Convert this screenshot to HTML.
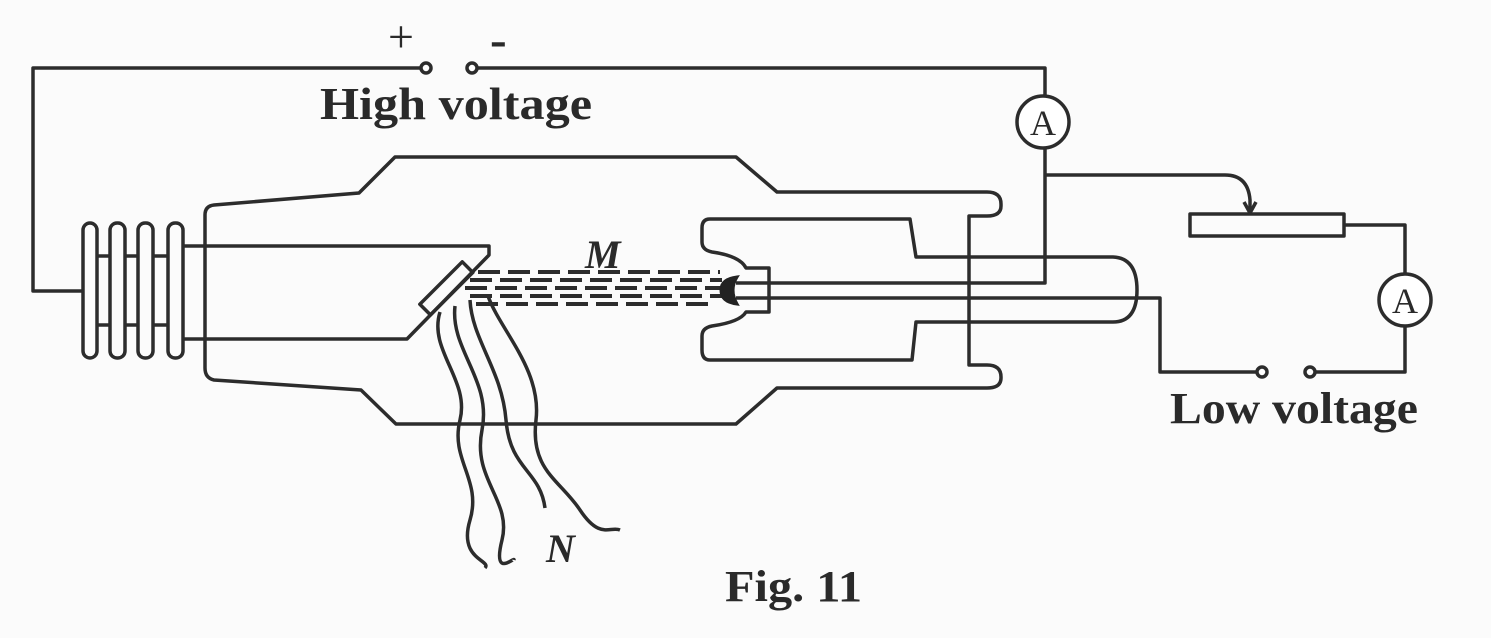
<!DOCTYPE html>
<html><head><meta charset="utf-8"><style>
html,body{margin:0;padding:0;background:#fbfbfb;}
svg{display:block;}
text{font-family:"Liberation Serif",serif;fill:#2a2a2a;}
</style></head><body>
<svg width="1491" height="638" viewBox="0 0 1491 638" xmlns="http://www.w3.org/2000/svg">
<rect width="1491" height="638" fill="#fbfbfb"/>
<g fill="none" stroke="#2c2c2c" stroke-width="3.5" stroke-linejoin="round">
<path d="M421,68 H33 V291 H83"/>
<path d="M477,68 H1045 V96"/>
<circle cx="426" cy="68" r="5" fill="#fff"/>
<circle cx="472" cy="68" r="5" fill="#fff"/>
<circle cx="1043" cy="122" r="26" fill="#fff"/>
<path d="M1045,148 V283 H736"/>
<rect x="83" y="223" width="14" height="135" rx="7"/>
<rect x="110" y="223" width="15" height="135" rx="7"/>
<rect x="138" y="223" width="15" height="135" rx="7"/>
<rect x="168" y="223" width="15" height="135" rx="7"/>
<path d="M97,256 H110 M125,256 H138 M153,256 H168 M97,325 H110 M125,325 H138 M153,325 H168"/>
<path d="M183,246 H489 V255 L407,339 H183"/>
<rect x="416" y="281" width="60" height="15" transform="rotate(-45 446 288)"/>
<path d="M395,157 H736 L777,192 H987 Q1001,192 1001,204 V206 Q1001,216 987,216 H969 V365 H987 Q1001,365 1001,377 V378 Q1001,388 987,388 H777 L736,424 H396 L361,390 L214,380 Q205,378 205,368 V215 Q205,206 214,205 L359,193 Z"/>
<path d="M710,219 H910 L916,257 H1113 Q1137,258 1137,290 Q1137,322 1113,322 H916 L912,360 H710 Q702,360 702,350 V336 Q702,328 712,326 Q740,322 746,312 H769 V268 H746 Q740,256 712,252 Q702,250 702,242 V228 Q702,219 710,219 Z"/>
<path d="M736,298 H1160 V372 H1257"/>
<path d="M1045,175 H1225 Q1248,175 1250,200 V212"/>
<path d="M1244,202 L1250,213 L1256,202"/>
<rect x="1190" y="214" width="154" height="22"/>
<path d="M1344,225 H1405 V274"/>
<circle cx="1405" cy="300" r="26" fill="#fff"/>
<path d="M1405,326 V372 H1315"/>
<circle cx="1262" cy="372" r="5" fill="#fff"/>
<circle cx="1310" cy="372" r="5" fill="#fff"/>
<path d="M440,312 C428,350 470,380 460,420 S482,480 470,520 S492,560 485,568"/>
<path d="M455,306 C450,350 492,380 482,430 S512,500 502,540 S515,556 514,560"/>
<path d="M470,300 C472,340 502,370 506,420 S540,470 545,508"/>
<path d="M488,296 C500,330 542,370 536,420 S560,480 580,510 S610,526 620,530"/>
<g stroke-width="4" stroke-dasharray="22 8">
<path d="M478,272 H720"/>
<path d="M470,280 H722"/>
<path d="M465,288 H725"/>
<path d="M470,296 H722"/>
<path d="M476,304 H715"/>
</g>
</g>
<path d="M737,277 Q721,279 721,290 Q721,302 737,304 Q729,290 737,277 Z" fill="#222" stroke="#222" stroke-width="3"/>
<text x="388" y="52" font-size="46" style="font-weight:normal">+</text>
<text x="490" y="56" font-size="50" style="font-weight:bold">-</text>
<text x="320" y="119" font-size="46" textLength="272" lengthAdjust="spacingAndGlyphs" style="font-weight:bold">High  voltage</text>
<text x="1043" y="135" font-size="36" text-anchor="middle" style="font-weight:normal">A</text>
<text x="1405" y="313" font-size="36" text-anchor="middle" style="font-weight:normal">A</text>
<text x="1170" y="423" font-size="44" textLength="248" lengthAdjust="spacingAndGlyphs" style="font-weight:bold">Low voltage</text>
<text x="585" y="268" font-size="40" style="font-weight:bold;font-style:italic">M</text>
<text x="546" y="562" font-size="40" style="font-weight:bold;font-style:italic">N</text>
<text x="725" y="601" font-size="44" textLength="137" lengthAdjust="spacingAndGlyphs" style="font-weight:bold">Fig. 11</text>
</svg>
</body></html>
